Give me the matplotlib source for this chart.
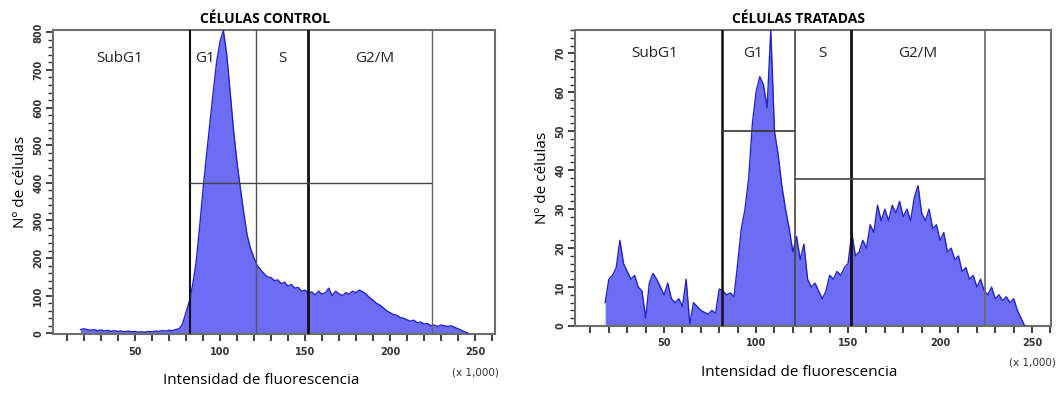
import numpy as np
import matplotlib
matplotlib.use("Agg")
import matplotlib.pyplot as plt
from matplotlib.ticker import MultipleLocator, FixedLocator

# histogram bins (x 1,000), every 2 units starting at 18
bin_start = 18
bin_width = 2

control_counts = [10, 12, 10, 8, 10, 7, 9, 6, 8, 5, 7, 5, 6, 4, 6, 4, 5, 3, 4, 3,
                  5, 4, 6, 5, 7, 6, 8, 7, 10, 12, 25, 55, 85, 130, 190, 280, 380, 470, 555, 640,
                  720, 775, 805, 740, 640, 540, 455, 385, 320, 260, 225, 200, 180, 168, 158, 150, 148, 140, 142, 132,
                  136, 125, 130, 120, 122, 112, 115, 106, 110, 102, 112, 104, 108, 120, 100, 112, 105, 100, 108, 104,
                  112, 108, 115, 110, 104, 95, 88, 80, 75, 68, 60, 55, 50, 48, 42, 40, 36, 32, 35, 28,
                  30, 25, 26, 20, 22, 18, 22, 20, 18, 20, 16, 12, 8, 4, 0]

treated_counts = [6, 12, 13, 15, 22, 16, 14, 12, 13, 10, 9, 2, 11, 13.5, 12, 10, 8, 11, 7, 6,
                  7, 5, 12, 0.5, 6, 5, 4, 3.5, 3, 4, 3.3, 9.5, 9, 8, 8.5, 7.5, 16, 25, 30, 38,
                  52, 60, 64, 62, 56, 76, 50, 44, 36, 30, 25, 19, 23, 17, 21, 12, 10, 11, 9, 7,
                  9, 13, 12, 14, 13, 15, 16, 24, 18, 19, 22, 20, 26, 24, 31, 27, 30, 27, 31, 29,
                  32, 28, 30, 27, 33, 36, 29, 27, 30, 25, 26, 22, 24, 19, 20, 17, 18, 14, 15, 12,
                  13, 10, 12, 9, 8, 10, 7, 8, 6.5, 7.5, 6, 7, 4, 2, 0]

# gates: vertical lines and horizontal marker levels
control_gates = [82.4, 121, 152, 225]
control_marker = 400
treated_gates = [81.5, 121, 151.6, 224.5]
treated_g1_marker = 50
treated_sg2_marker = 37.7

region_names = ["SubG1", "G1", "S", "G2/M"]

fill_col = "#6c6cf5"
line_col = "#2323c8"
frame_col = "#6e6e6e"

fig = plt.figure(figsize=(10.56, 3.93), dpi=100)
ax1 = fig.add_axes([0.0502, 0.150, 0.4186, 0.7735])
ax2 = fig.add_axes([0.5445, 0.1705, 0.4508, 0.7532])


def draw_hist(ax, counts):
    counts = np.array(counts, dtype=float)
    x = bin_start + bin_width * np.arange(len(counts))
    ax.fill_between(x, counts, 0, color=fill_col, lw=0, zorder=2)
    ax.plot(x, counts, color=line_col, lw=1.0, zorder=3)


def style_axes(ax, ymajor, yminor, xunit_y):
    for s in ax.spines.values():
        s.set_color(frame_col)
        s.set_linewidth(1.5)
    ax.xaxis.set_major_locator(FixedLocator([50, 100, 150, 200, 250]))
    ax.xaxis.set_minor_locator(MultipleLocator(10))
    ax.yaxis.set_major_locator(MultipleLocator(ymajor))
    ax.yaxis.set_minor_locator(MultipleLocator(yminor))
    ax.tick_params(axis="x", which="both", direction="out", length=5, width=1.3,
                   color="#333333", labelsize=7, pad=4)
    ax.tick_params(axis="y", which="major", direction="out", length=5, width=1.3,
                   color="#333333", labelsize=7, pad=2)
    ax.tick_params(axis="y", which="minor", direction="out", length=3.5, width=1.0,
                   color="#333333")
    for lab in ax.get_xticklabels() + ax.get_yticklabels():
        lab.set_fontweight("bold")
        lab.set_color("#333333")
    for lab in ax.get_yticklabels():
        lab.set_rotation(90)
        lab.set_va("center")
    ax.text(250, xunit_y, "(x 1,000)", transform=ax.get_xaxis_transform(),
            ha="center", va="center", fontsize=7.5, color="#333333")
    ax.set_xlabel("Intensidad de fluorescencia", fontsize=11, family="Open Sans",
                  labelpad=12, x=0.47)
    ax.set_ylabel("Nº de células", fontsize=11, family="Open Sans", labelpad=4)


# ---- control panel ----
draw_hist(ax1, control_counts)
ax1.set_xlim(1.8, 261.8)
ax1.set_ylim(-2, 806)
style_axes(ax1, 100, 20, -0.125)
ax1.axvline(control_gates[0], color="#111111", lw=1.5, zorder=4)
ax1.axvline(control_gates[1], color="#555555", lw=1.0, zorder=4)
ax1.axvline(control_gates[2], color="#111111", lw=2.0, zorder=4)
ax1.axvline(control_gates[3], color="#666666", lw=1.0, zorder=4)
ax1.hlines(control_marker, control_gates[0], control_gates[3], color="#444444", lw=1.0, zorder=4)
ax1.set_title("CÉLULAS CONTROL", fontsize=10, fontweight="bold", family="Open Sans", pad=5, x=0.48)
for name, xpos in zip(region_names, [41, 91, 136.5, 191]):
    ax1.text(xpos, 730, name, ha="center", va="center", fontsize=11,
             family="Open Sans", color="#222222", zorder=5)

# ---- treated panel ----
draw_hist(ax2, treated_counts)
ax2.set_xlim(1.6, 260.3)
ax2.set_ylim(0, 76)
style_axes(ax2, 10, 2, -0.122)
ax2.axvline(treated_gates[0], color="#111111", lw=1.8, zorder=4)
ax2.axvline(treated_gates[1], color="#444444", lw=1.2, zorder=4)
ax2.axvline(treated_gates[2], color="#111111", lw=2.0, zorder=4)
ax2.axvline(treated_gates[3], color="#666666", lw=1.2, zorder=4)
ax2.hlines(treated_g1_marker, treated_gates[0], treated_gates[1], color="#333333", lw=1.2, zorder=4)
ax2.hlines(treated_sg2_marker, treated_gates[1], treated_gates[3], color="#444444", lw=1.2, zorder=4)
ax2.set_title("CÉLULAS TRATADAS", fontsize=10, fontweight="bold", family="Open Sans", pad=5, x=0.47)
for name, xpos in zip(region_names, [45, 98.4, 136, 188]):
    ax2.text(xpos, 70, name, ha="center", va="center", fontsize=11,
             family="Open Sans", color="#222222", zorder=5)

fig.savefig("out.png", dpi=100)
